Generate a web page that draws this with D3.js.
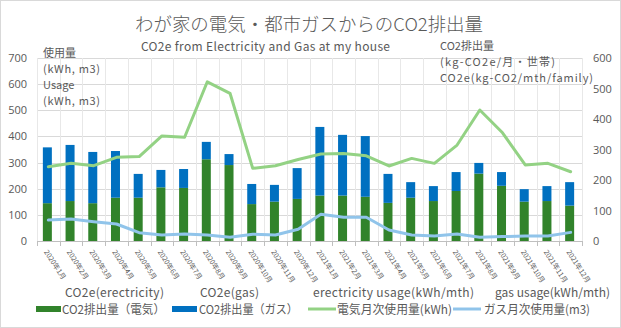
<!DOCTYPE html>
<html><head><meta charset="utf-8">
<script src="https://cdn.jsdelivr.net/npm/d3@7"></script>
<style>
html,body{margin:0;padding:0;background:#fff;}
svg{display:block;font-family:"Noto Sans CJK JP","Noto Sans",sans-serif;}
</style></head>
<body>
<svg id="c" width="621" height="328"></svg>
<script>
const months = ["2020年1月","2020年2月","2020年3月","2020年4月","2020年5月","2020年6月","2020年7月","2020年8月","2020年9月","2020年10月","2020年11月","2020年12月",
"2021年1月","2021年2月","2021年3月","2021年4月","2021年5月","2021年6月","2021年7月","2021年8月","2021年9月","2021年10月","2021年11月","2021年12月"];
const co2Elec = [124,131,124,142,142,176,174,268,249,121,129,138,149,149,145,125,142,131,164,221,181,129,131,116];
const co2Gas  = [183,184,168,153,78,57,62,57,36,66,55,101,225,199,199,95,51,49,62,35,45,41,49,77];
const elecUse = [284,297,288,320,323,402,397,609,565,278,288,312,333,335,326,287,316,297,367,501,414,291,297,265];
const gasUse  = [80,84,74,65,32,23,27,23,14,26,23,45,102,91,91,42,23,19,27,14,17,19,19,33];
const leftTicks = [0,100,200,300,400,500,600,700];
const rightTicks = [0,100,200,300,400,500,600];

const svg = d3.select("#c");
const L = 37, R = 582, T = 58, B = 241;
const gray = "#595959";
const cGreen = "#31832b", cBlue = "#0070c0", cLGreen = "#93d284", cLBlue = "#90c4ea";

svg.append("rect").attr("x",0.5).attr("y",0.5).attr("width",620).attr("height",327)
  .attr("fill","#fff").attr("stroke","#d9d9d9");

const xc = d3.scaleBand().domain(months).range([L,R]);
const yL = d3.scaleLinear().domain([0,700]).range([B,T]);
const yR = d3.scaleLinear().domain([0,600]).range([B,T]);

// gridlines
svg.append("g").selectAll("line").data(leftTicks).join("line")
  .attr("x1",L).attr("x2",R).attr("y1",d=>Math.round(yL(d))+0.5).attr("y2",d=>Math.round(yL(d))+0.5)
  .attr("stroke","#d9d9d9");
svg.append("g").selectAll("line").data(months.concat(["end"])).join("line")
  .attr("x1",(d,i)=>Math.round(L+i*xc.step())+0.5).attr("x2",(d,i)=>Math.round(L+i*xc.step())+0.5)
  .attr("y1",T).attr("y2",B)
  .attr("stroke","#e8e8e8");

// bars
const bw = 9;
svg.append("g").selectAll("rect").data(months).join("rect")
  .attr("x",d=>xc(d)+xc.bandwidth()/2-bw/2-1).attr("width",bw)
  .attr("y",(d,i)=>yR(co2Elec[i])).attr("height",(d,i)=>yR(0)-yR(co2Elec[i]))
  .attr("fill",cGreen);
svg.append("g").selectAll("rect").data(months).join("rect")
  .attr("x",d=>xc(d)+xc.bandwidth()/2-bw/2-1).attr("width",bw)
  .attr("y",(d,i)=>yR(co2Elec[i]+co2Gas[i])).attr("height",(d,i)=>yR(co2Elec[i])-yR(co2Elec[i]+co2Gas[i]))
  .attr("fill",cBlue);

// lines
const line = d3.line().x((d,i)=>xc(months[i])+xc.bandwidth()/2).y(d=>yL(d));
svg.append("path").datum(elecUse).attr("d",line).attr("fill","none")
  .attr("stroke",cLGreen).attr("stroke-width",3).attr("stroke-linejoin","round").attr("stroke-linecap","round");
svg.append("path").datum(gasUse).attr("d",line).attr("fill","none")
  .attr("stroke",cLBlue).attr("stroke-width",3).attr("stroke-linejoin","round").attr("stroke-linecap","round");

// x axis
const xAxis = svg.append("g").attr("transform",`translate(0,${B})`);
xAxis.append("line").attr("x1",L).attr("x2",R).attr("y1",0.5).attr("y2",0.5).attr("stroke","#bfbfbf");
xAxis.selectAll("line.tk").data(months.concat(["end"])).join("line").attr("class","tk")
  .attr("x1",(d,i)=>Math.round(L+i*xc.step())+0.5).attr("x2",(d,i)=>Math.round(L+i*xc.step())+0.5)
  .attr("y1",0).attr("y2",5).attr("stroke","#bfbfbf");
xAxis.selectAll("text").data(months).join("text")
  .attr("transform",d=>`translate(${xc(d)+xc.bandwidth()/2-4.5},${11}) rotate(57)`)
  .attr("font-size",7).attr("fill",gray).attr("text-anchor","start")
  .text(d=>d);

// y axes labels
const yLeft = d3.axisLeft(yL).tickValues(leftTicks).tickSize(0).tickPadding(10);
const gl = svg.append("g").attr("transform",`translate(${L},0)`).call(yLeft);
gl.select(".domain").remove();
gl.selectAll("text").attr("font-size",11).attr("fill",gray).attr("font-family","'Open Sans','Noto Sans',sans-serif");
const yRight = d3.axisRight(yR).tickValues(rightTicks).tickSize(0).tickPadding(11);
const gr = svg.append("g").attr("transform",`translate(${R},0)`).call(yRight);
gr.select(".domain").remove();
gr.selectAll("text").attr("font-size",11).attr("fill",gray).attr("font-family","'Open Sans','Noto Sans',sans-serif");

// titles
svg.append("text").attr("x",309).attr("y",31).attr("text-anchor","middle")
  .attr("font-size",18).attr("fill",gray).attr("font-weight",300)
  .attr("textLength",348).attr("lengthAdjust","spacingAndGlyphs")
  .text("わが家の電気・都市ガスからのCO2排出量");
svg.append("text").attr("x",141).attr("y",51).attr("font-size",12).attr("fill",gray)
  .attr("textLength",249).attr("lengthAdjust","spacing")
  .text("CO2e from Electricity and Gas at my house");

const leftTitle = [["使用量",57,null],["(kWh, m3)",73,57],["Usage",89,null],["(kWh, m3)",105,57]];
leftTitle.forEach(([t,y,w])=>{
  const e = svg.append("text").attr("x",43).attr("y",y).attr("font-size",11).attr("fill",gray).text(t);
  if(w) e.attr("textLength",w).attr("lengthAdjust","spacing");
});
const rightTitle = [["CO2排出量",50,null],["(kg-CO2e/月・世帯)",66,115],["CO2e(kg-CO2/mth/family)",82,153]];
rightTitle.forEach(([t,y,w])=>{
  const e = svg.append("text").attr("x",440).attr("y",y).attr("font-size",11).attr("fill",gray).text(t);
  if(w) e.attr("textLength",w).attr("lengthAdjust","spacing");
});

// legend
const legTop = [["CO2e(erectricity)",65,99],["CO2e(gas)",200,59],["erectricity usage(kWh/mth)",313,161],["gas usage(kWh/mth)",495,115]];
legTop.forEach(([t,xx,w])=>{
  svg.append("text").attr("x",xx).attr("y",297).attr("font-size",12).attr("fill",gray)
    .attr("textLength",w).attr("lengthAdjust","spacing").text(t);
});
const legItems = [
  {type:"bar",color:cGreen,x:36,tx:62,label:"CO2排出量（電気）",w:103},
  {type:"bar",color:cBlue,x:172,tx:199,label:"CO2排出量（ガス）",w:99},
  {type:"line",color:cLGreen,x:308,tx:337,label:"電気月次使用量(kWh)",w:115},
  {type:"line",color:cLBlue,x:453,tx:484,label:"ガス月次使用量(m3)",w:106}
];
legItems.forEach(it=>{
  if(it.type==="bar"){
    svg.append("rect").attr("x",it.x).attr("y",306).attr("width",25).attr("height",6).attr("fill",it.color);
  } else {
    svg.append("line").attr("x1",it.x).attr("x2",it.x+28).attr("y1",309).attr("y2",309)
      .attr("stroke",it.color).attr("stroke-width",3);
  }
  svg.append("text").attr("x",it.tx).attr("y",314).attr("font-size",12).attr("fill",gray)
    .attr("textLength",it.w).attr("lengthAdjust","spacingAndGlyphs").text(it.label);
});
</script>
</body></html>
